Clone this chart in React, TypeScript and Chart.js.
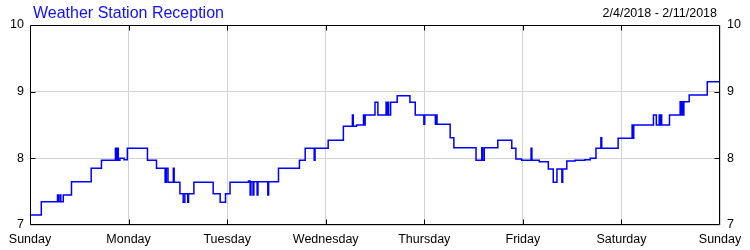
import React, { useEffect, useRef } from "react";
import { Chart, registerables } from "chart.js";

Chart.register(...registerables);

const chartTitle = "Weather Station Reception";
const dateRange = "2/4/2018 - 2/11/2018";
const dayLabels = ["Sunday", "Monday", "Tuesday", "Wednesday", "Thursday", "Friday", "Saturday", "Sunday"];
const yMin = 7;
const yMax = 10;

// hours since Sunday 00:00, and the reception value that starts at that hour
const hours = [
  0, 2.75, 6.7, 6.9, 7.3, 7.5, 8.1, 10.1, 14.9, 17.4,
  20.8, 21.0, 21.3, 21.5, 21.9, 22.9, 23.7, 28.6, 30.8, 32.9,
  33.2, 33.6, 34.9, 35.1, 36.5, 37.3, 37.7, 38.4, 38.6, 39.9,
  44.6, 46.3, 47.6, 48.7, 53.2, 53.6, 53.8, 54.3, 54.5, 55.3,
  55.5, 57.9, 58.1, 60.5, 65.6, 67.0, 69.2, 69.4, 72.6, 76.3,
  78.5, 78.7, 79.5, 81.2, 81.4, 81.6, 84.0, 84.7, 86.7, 86.9,
  87.1, 87.3, 87.8, 89.4, 92.5, 93.8, 95.9, 96.1, 98.7, 98.9,
  99.1, 102.3, 103.2, 108.6, 110.0, 110.2, 110.6, 113.9, 117.3, 118.3,
  119.7, 122.0, 122.2, 124.0, 126.2, 127.4, 128.3, 129.5, 129.7, 130.7,
  132.7, 135.1, 136.4, 137.8, 139.0, 139.2, 143.2, 146.6, 146.8, 147.0,
  151.8, 152.5, 153.2, 153.4, 153.6, 153.8, 155.7, 158.3, 158.5, 158.8,
  159.0, 159.2, 160.5, 164.9, 168,
];
const signal = [
  7.15, 7.35, 7.45, 7.35, 7.45, 7.35, 7.45, 7.65, 7.85, 7.97,
  8.15, 7.97, 8.15, 7.97, 8.0, 7.98, 8.15, 7.97, 7.85, 7.64,
  7.85, 7.64, 7.85, 7.64, 7.47, 7.34, 7.47, 7.34, 7.47, 7.64,
  7.47, 7.34, 7.47, 7.64, 7.66, 7.45, 7.65, 7.45, 7.65, 7.45,
  7.65, 7.45, 7.65, 7.85, 7.97, 8.15, 7.97, 8.15, 8.27, 8.48,
  8.65, 8.48, 8.5, 8.65, 8.5, 8.65, 8.84, 8.65, 8.84, 8.65,
  8.84, 8.65, 8.84, 8.94, 8.84, 8.65, 8.51, 8.65, 8.51, 8.65,
  8.51, 8.31, 8.16, 7.97, 8.16, 7.97, 8.16, 8.27, 8.15, 7.99,
  7.97, 8.15, 7.97, 7.95, 7.84, 7.64, 7.84, 7.64, 7.84, 7.96,
  7.97, 7.98, 8.0, 8.15, 8.31, 8.15, 8.3, 8.5, 8.3, 8.5,
  8.65, 8.5, 8.65, 8.5, 8.65, 8.5, 8.65, 8.85, 8.65, 8.85,
  8.65, 8.85, 8.95, 9.15, 9.15,
];

const FONT = "'Liberation Sans', Arial, sans-serif";

const framePlugin = {
  id: "frameAndTitles",
  afterDatasetsDraw(chart: any) {
    const { ctx, chartArea } = chart;
    const xs = chart.scales.x;
    const ys = chart.scales.y;
    const l = Math.round(chartArea.left) + 0.5;
    const r = Math.round(chartArea.right) - 0.5;
    const t = Math.round(chartArea.top) + 0.5;
    const b = Math.round(chartArea.bottom) - 0.5;
    ctx.save();
    ctx.strokeStyle = "#000";
    ctx.lineWidth = 1;
    ctx.beginPath();
    ctx.rect(l, t, r - l, b - t);
    const tick = 5;
    for (let i = 1; i < dayLabels.length - 1; i++) {
      const px = Math.round(xs.getPixelForValue(i * 24)) + 0.5;
      ctx.moveTo(px, t);
      ctx.lineTo(px, t + tick);
      ctx.moveTo(px, b);
      ctx.lineTo(px, b - tick);
    }
    for (let v = yMin + 1; v < yMax; v++) {
      const py = Math.round(ys.getPixelForValue(v)) + 0.5;
      ctx.moveTo(l, py);
      ctx.lineTo(l + tick, py);
      ctx.moveTo(r, py);
      ctx.lineTo(r - tick, py);
    }
    ctx.stroke();

    ctx.textBaseline = "alphabetic";
    ctx.fillStyle = "#1010ff";
    ctx.font = `16px ${FONT}`;
    ctx.textAlign = "left";
    ctx.fillText(chartTitle, 33, 18);
    ctx.fillStyle = "#000";
    ctx.font = `12.5px ${FONT}`;
    ctx.textAlign = "right";
    ctx.fillText(dateRange, 717, 17);
    ctx.restore();
  },
};

export default function App() {
  const ref = useRef<HTMLCanvasElement | null>(null);
  useEffect(() => {
    document.body.style.margin = "0";
    if (!ref.current) return;
    const tickFont = { family: FONT, size: 12.5 };
    const chart = new Chart(ref.current, {
      type: "line",
      data: {
        datasets: [
          {
            data: hours.map((h, i) => ({ x: h, y: signal[i] })),
            stepped: true,
            borderColor: "#0000ff",
            borderWidth: 1.5,
            pointRadius: 0,
            fill: false,
          },
        ],
      },
      options: {
        animation: false,
        responsive: true,
        maintainAspectRatio: false,
        layout: { padding: { top: 25, left: 0, right: 0, bottom: 0 } },
        plugins: { legend: { display: false }, tooltip: { enabled: false }, title: { display: false } },
        scales: {
          x: {
            type: "linear",
            min: 0,
            max: 168,
            ticks: {
              stepSize: 24,
              autoSkip: false,
              maxRotation: 0,
              color: "#000",
              font: tickFont,
              padding: 7,
              callback: (v: any) => dayLabels[Math.round(Number(v) / 24)],
            },
            grid: { color: "#d3d3d3", drawTicks: false },
            border: { display: false },
            afterFit: (s: any) => {
              s.height = 25;
            },
          },
          y: {
            position: "left",
            min: yMin,
            max: yMax,
            ticks: { stepSize: 1, color: "#000", font: tickFont, padding: 6 },
            grid: { color: "#d3d3d3", drawTicks: false },
            border: { display: false },
            afterFit: (s: any) => {
              s.width = 30;
            },
          },
          y2: {
            position: "right",
            min: yMin,
            max: yMax,
            ticks: { stepSize: 1, color: "#000", font: tickFont, padding: 7 },
            grid: { display: false, drawTicks: false },
            border: { display: false },
            afterFit: (s: any) => {
              s.width = 30;
            },
          },
        },
      },
      plugins: [framePlugin],
    });
    return () => chart.destroy();
  }, []);
  return (
    <div style={{ position: "relative", width: 750, height: 250 }}>
      <canvas ref={ref} />
    </div>
  );
}
